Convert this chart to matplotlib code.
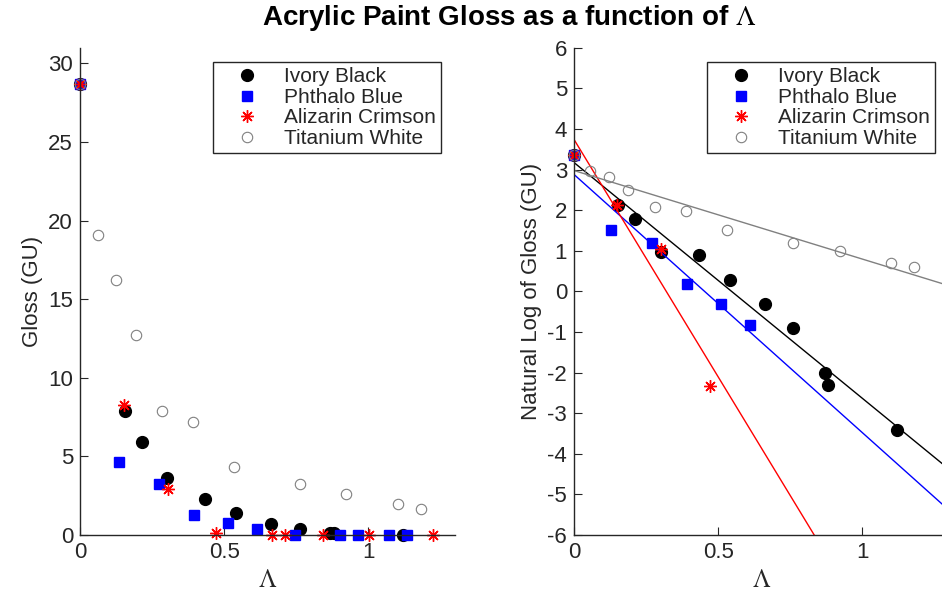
import numpy as np
import matplotlib
matplotlib.use('Agg')
import matplotlib.pyplot as plt

plt.rcParams['font.family'] = ['Liberation Sans', 'DejaVu Sans']
plt.rcParams['mathtext.fontset'] = 'stix'
plt.rcParams['axes.unicode_minus'] = False

# dados - brilho (GU) vs Lambda
nomes = ['Ivory Black', 'Phthalo Blue', 'Alizarin Crimson', 'Titanium White']

preto_x = [0, 0.155, 0.214, 0.302, 0.434, 0.542, 0.662, 0.762, 0.868, 0.880, 1.121]
preto_y = [28.7, 7.9, 5.9, 3.65, 2.3, 1.4, 0.72, 0.38, 0.14, 0.10, 0.03]

azul_x = [0, 0.135, 0.274, 0.394, 0.513, 0.614, 0.744, 0.903, 0.964, 1.071, 1.134]
azul_y = [28.7, 4.65, 3.25, 1.3, 0.75, 0.38, 0, 0, 0, 0, 0]

verm_x = [0, 0.153, 0.304, 0.473, 0.666, 0.712, 0.841, 1.001, 1.225]
verm_y = [28.7, 8.3, 2.9, 0.1, 0, 0, 0, 0, 0]

branco_x = [0, 0.064, 0.125, 0.194, 0.284, 0.393, 0.533, 0.762, 0.921, 1.101, 1.181]
branco_y = [28.7, 19.1, 16.2, 12.7, 7.9, 7.2, 4.35, 3.25, 2.6, 1.98, 1.65]

# log natural do brilho (grafico da direita)
ln_preto_x = [0, 0.154, 0.213, 0.301, 0.433, 0.540, 0.661, 0.761, 0.869, 0.880, 1.121]
ln_preto_y = [3.36, 2.12, 1.78, 0.97, 0.89, 0.29, -0.31, -0.91, -2.01, -2.31, -3.41]

ln_azul_x = [0, 0.130, 0.271, 0.392, 0.510, 0.611]
ln_azul_y = [3.36, 1.50, 1.19, 0.19, -0.31, -0.82]

ln_verm_x = [0, 0.149, 0.303, 0.470]
ln_verm_y = [3.36, 2.12, 1.05, -2.34]

ln_branco_x = [0, 0.056, 0.121, 0.189, 0.280, 0.389, 0.531, 0.761, 0.921, 1.099, 1.180]
ln_branco_y = [3.36, 2.96, 2.81, 2.49, 2.09, 1.99, 1.50, 1.19, 1.00, 0.71, 0.59]

cinza = '#262626'
estilos = [
    dict(marker='o', color='k', markerfacecolor='k', markeredgecolor='k', markersize=8.5),
    dict(marker='s', color='b', markerfacecolor='b', markeredgecolor='b', markersize=6.5),
    dict(marker=(8, 2, 0), color='r', markeredgecolor='r', markersize=9, markeredgewidth=1.0),
    dict(marker='o', color='#808080', markerfacecolor='none', markeredgecolor='#808080',
         markersize=7.5, markeredgewidth=0.8),
]
cores_linha = ['k', 'b', 'r', '#808080']

fig = plt.figure(figsize=(9.42, 5.92), dpi=100)
ax1 = fig.add_axes([0.0849, 0.0963, 0.398, 0.823])
ax2 = fig.add_axes([0.6093, 0.0963, 0.398, 0.823])

dados_esq = [(preto_x, preto_y), (azul_x, azul_y), (verm_x, verm_y), (branco_x, branco_y)]
for (x, y), nome, est in zip(dados_esq, nomes, estilos):
    ax1.plot(x, y, linestyle='none', label=nome, clip_on=False, **est)

dados_dir = [(ln_preto_x, ln_preto_y), (ln_azul_x, ln_azul_y),
             (ln_verm_x, ln_verm_y), (ln_branco_x, ln_branco_y)]
xx = np.linspace(0, 1.3, 50)
for (x, y), nome, est, cor in zip(dados_dir, nomes, estilos, cores_linha):
    ax2.plot(x, y, linestyle='none', label=nome, clip_on=False, **est)
    a, b = np.polyfit(x, y, 1)
    ax2.plot(xx, a * xx + b, color=cor, linewidth=1.0)

ax1.set_xlim(0, 1.3)
ax1.set_ylim(0, 31)
ax1.set_yticks(np.arange(0, 31, 5))
ax1.set_xticks([0, 0.5, 1])
ax1.set_xticklabels(['0', '0.5', '1'])
ax1.set_ylabel('Gloss (GU)', fontsize=16, color=cinza)

ax2.set_xlim(0, 1.3)
ax2.set_ylim(-6, 6)
ax2.set_yticks(np.arange(-6, 7, 1))
ax2.set_xticks([0, 0.5, 1])
ax2.set_xticklabels(['0', '0.5', '1'])
ax2.set_ylabel('Natural Log of Gloss (GU)', fontsize=16, color=cinza)

for ax in (ax1, ax2):
    ax.set_xlabel(r'$\Lambda$', fontsize=18, color=cinza)
    ax.spines['top'].set_visible(False)
    ax.spines['right'].set_visible(False)
    for s in ('left', 'bottom'):
        ax.spines[s].set_color(cinza)
        ax.spines[s].set_linewidth(1.0)
    ax.tick_params(direction='in', length=6, labelsize=16, colors=cinza, pad=5)
    leg = ax.legend(loc='upper right', fontsize=15, frameon=True, fancybox=False,
                    edgecolor=cinza, borderpad=0.25, labelspacing=0.08,
                    handlelength=2.77, handletextpad=0.35, borderaxespad=0.68)
    leg.get_frame().set_linewidth(1.0)
    leg.get_frame().set_alpha(1)
    for t in leg.get_texts():
        t.set_color(cinza)

fig.text(0.541, 0.970, r'Acrylic Paint Gloss as a function of $\Lambda$', ha='center',
         va='center', fontsize=20, fontweight='bold')

plt.savefig('out.png', dpi=100)
